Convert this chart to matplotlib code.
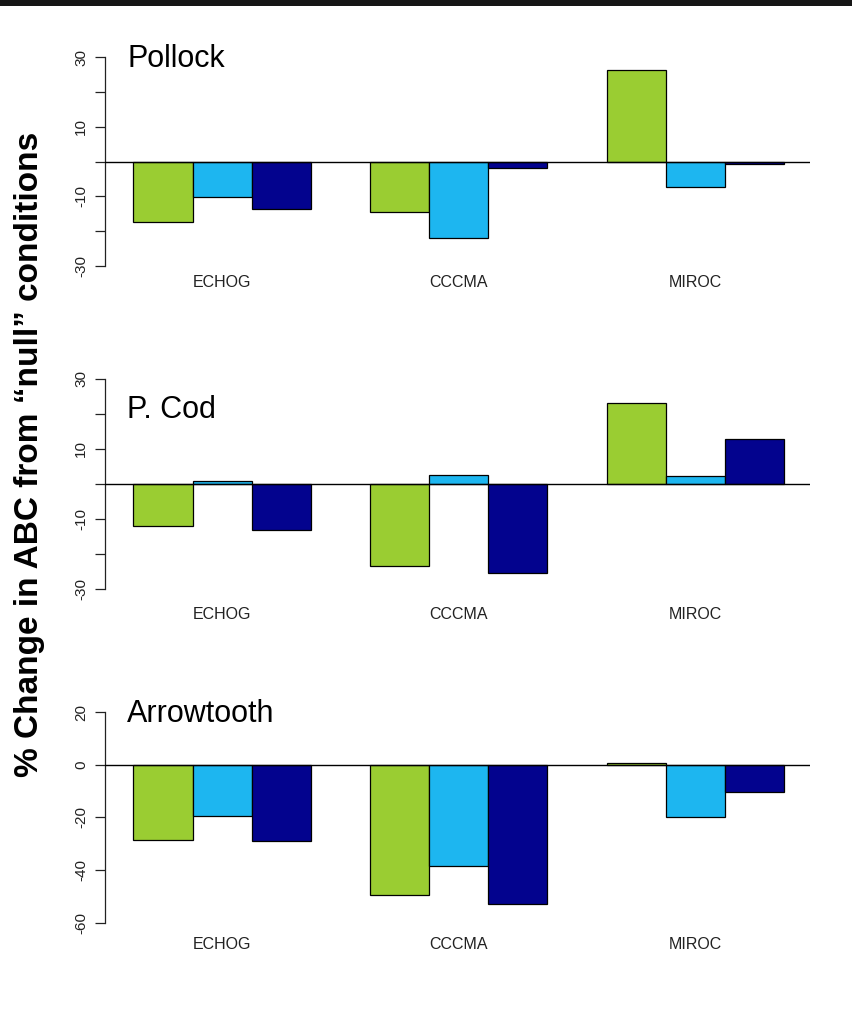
import matplotlib
matplotlib.use("Agg")
import matplotlib.pyplot as plt
from matplotlib.patches import Rectangle

plt.rcParams['font.family'] = ['Liberation Sans', 'DejaVu Sans']

# Climate models (bar groups) and species (panels)
models = ["ECHOG", "CCCMA", "MIROC"]
species = ["Pollock", "P. Cod", "Arrowtooth"]

# % change in ABC for the three scenarios, one value per model
pollock_s1 = [-17.4, -14.6, 26.4]
pollock_s2 = [-10.1, -21.9, -7.4]
pollock_s3 = [-13.7, -1.7, -0.8]

pcod_s1 = [-11.9, -23.3, 23.0]
pcod_s2 = [0.9, 2.7, 2.3]
pcod_s3 = [-13.1, -25.3, 12.8]

arrow_s1 = [-28.5, -49.7, 0.6]
arrow_s2 = [-19.5, -38.4, -19.8]
arrow_s3 = [-29.0, -53.1, -10.3]

# y-axis tick positions and labels per panel
pollock_ticks = [-30, -20, -10, 0, 10, 20, 30]
pollock_ticklabels = ["-30", "", "-10", "", "10", "", "30"]
pcod_ticks = [-30, -20, -10, 0, 10, 20, 30]
pcod_ticklabels = ["-30", "", "-10", "", "10", "", "30"]
arrow_ticks = [-60, -40, -20, 0, 20]
arrow_ticklabels = ["-60", "-40", "-20", "0", "20"]

scenario_colors = ["#9ACD32", "#1DB6F0", "#03038E"]

W, H = 852, 1028
fig = plt.figure(figsize=(W / 100, H / 100), dpi=100)
fig.patch.set_facecolor("white")

# dark strip along the top edge
fig.patches.append(Rectangle((0, 1 - 6 / H), 1, 6 / H, transform=fig.transFigure,
                             facecolor="#161616", edgecolor="none"))


def px_axes(left, top, right, bottom):
    return fig.add_axes([left / W, 1 - bottom / H, (right - left) / W, (bottom - top) / H])


panels = [
    dict(name=species[0], series=[pollock_s1, pollock_s2, pollock_s3],
         ticks=pollock_ticks, labels=pollock_ticklabels,
         box=(105, 49, 810, 274), ylim=(-32.3, 32.4), title_base=66.7),
    dict(name=species[1], series=[pcod_s1, pcod_s2, pcod_s3],
         ticks=pcod_ticks, labels=pcod_ticklabels,
         box=(105, 370, 810, 606), ylim=(-34.86, 32.57), title_base=418.3),
    dict(name=species[2], series=[arrow_s1, arrow_s2, arrow_s3],
         ticks=arrow_ticks, labels=arrow_ticklabels,
         box=(105, 700, 810, 936), ylim=(-65.1, 24.6), title_base=721.7),
]

for p in panels:
    ax = px_axes(*p["box"])
    ax.set_facecolor("none")
    n_series = len(p["series"])
    for j, (vals, col) in enumerate(zip(p["series"], scenario_colors)):
        xs = [1 + g * (n_series + 1) + j for g in range(len(models))]
        ax.bar(xs, vals, width=1.0, align="edge", color=col,
               edgecolor="black", linewidth=0.9, zorder=2)
    ax.axhline(0, color="black", linewidth=1.0, zorder=3)
    ax.set_xlim(0.52, 12.44)
    ax.set_ylim(*p["ylim"])

    centers = [1 + g * (n_series + 1) + n_series / 2 for g in range(len(models))]
    ax.set_xticks(centers)
    ax.set_xticklabels(models, fontsize=11.5, color="#222222")
    ax.tick_params(axis="x", length=0, pad=1)

    ax.set_yticks(p["ticks"])
    ax.set_yticklabels(p["labels"], rotation=90, va="center", fontsize=11,
                       color="#222222")
    ax.tick_params(axis="y", length=7, width=0.9, pad=5, color="#222222")

    for s in ("top", "right", "bottom"):
        ax.spines[s].set_visible(False)
    ax.spines["left"].set_bounds(p["ticks"][0], p["ticks"][-1])
    ax.spines["left"].set_linewidth(0.9)
    ax.spines["left"].set_color("#222222")

    fig.text(127 / W, 1 - p["title_base"] / H, p["name"], ha="left", va="baseline",
             fontsize=22, color="black")

fig.text(30 / W, 1 - 454 / H, "% Change in ABC from \u201cnull\u201d conditions",
         rotation=90, ha="center", va="center", fontsize=24, fontweight="bold")

fig.savefig("out.png", dpi=100, facecolor="white")
